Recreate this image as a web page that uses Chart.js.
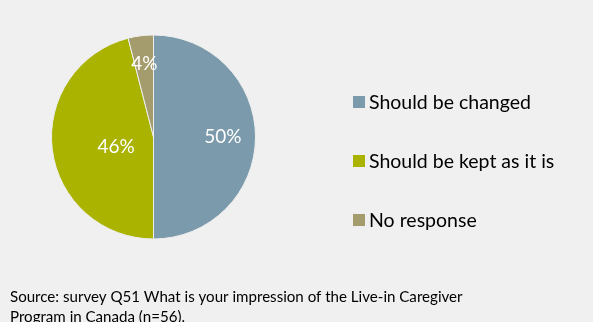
<!DOCTYPE html>
<html>
<head>
<meta charset="utf-8">
<script src="https://cdn.jsdelivr.net/npm/chart.js@4.4.1/dist/chart.umd.min.js"></script>
<style>
  html, body { margin: 0; padding: 0; background: #f0f0f0; }
  #wrap { width: 593px; height: 322px; position: relative; }
</style>
</head>
<body>
<div id="wrap"><canvas id="c" width="593" height="322"></canvas></div>
<script>
// Responses to Q51 (n=56), in percent
const categories = ['Should be changed', 'Should be kept as it is', 'No response'];
const shares = [50, 46, 4];
const sliceColors = ['#7b9aab', '#a9b300', '#a59c6e'];
const sourceLines = [
  'Source: survey Q51 What is your impression of the Live-in Caregiver',
  'Program in Canada (n=56).'
];

const FONT = 'Lato, "Open Sans", sans-serif';

// Percent labels inside each slice, placed along the slice's middle angle
const sliceLabels = {
  id: 'sliceLabels',
  afterDatasetsDraw(chart, args, opts) {
    const ctx = chart.ctx;
    const meta = chart.getDatasetMeta(0);
    ctx.save();
    ctx.fillStyle = '#ffffff';
    ctx.font = opts.font;
    ctx.textAlign = 'center';
    ctx.textBaseline = 'middle';
    meta.data.forEach((arc, i) => {
      const p = arc.getProps(['x', 'y', 'startAngle', 'endAngle', 'outerRadius'], true);
      const mid = (p.startAngle + p.endAngle) / 2;
      const r = p.outerRadius * opts.radiusFraction[i];
      const x = p.x + Math.cos(mid) * r;
      const y = p.y + Math.sin(mid) * r + (opts.yShift[i] || 0);
      ctx.fillText(shares[i] + '%', x, y);
    });
    ctx.restore();
  }
};

// Legend block to the right of the pie
const sideLegend = {
  id: 'sideLegend',
  afterDraw(chart, args, opts) {
    const ctx = chart.ctx;
    ctx.save();
    ctx.font = opts.font;
    ctx.textBaseline = 'middle';
    ctx.textAlign = 'left';
    categories.forEach((name, i) => {
      const cy = opts.top + i * opts.rowGap;
      ctx.fillStyle = sliceColors[i];
      ctx.fillRect(opts.left, cy - opts.box / 2, opts.box, opts.box);
      ctx.fillStyle = '#000000';
      ctx.fillText(name, opts.left + opts.box + 4, cy + 1);
    });
    ctx.restore();
  }
};

// Source note under the chart
const sourceNote = {
  id: 'sourceNote',
  afterDraw(chart, args, opts) {
    const ctx = chart.ctx;
    ctx.save();
    ctx.font = opts.font;
    ctx.fillStyle = '#000000';
    ctx.textBaseline = 'middle';
    ctx.textAlign = 'left';
    sourceLines.forEach((line, i) => {
      ctx.fillText(line, opts.left, opts.top + i * opts.lineHeight);
    });
    ctx.restore();
  }
};

new Chart(document.getElementById('c'), {
  type: 'pie',
  data: {
    labels: categories,
    datasets: [{
      data: shares,
      backgroundColor: sliceColors,
      borderColor: '#eeeeee',
      borderWidth: 1
    }]
  },
  options: {
    responsive: false,
    animation: false,
    events: [],
    layout: { padding: { left: 51, top: 34, right: 337, bottom: 82 } },
    plugins: {
      legend: { display: false },
      tooltip: { enabled: false },
      sliceLabels: {
        font: '19px ' + FONT,
        radiusFraction: [0.68, 0.37, 0.72],
        yShift: [0, 5, 0]
      },
      sideLegend: { font: '19.5px ' + FONT, left: 353, top: 102, rowGap: 59, box: 12 },
      sourceNote: { font: '15.1px ' + FONT, left: 10, top: 297, lineHeight: 20 }
    }
  },
  plugins: [sliceLabels, sideLegend, sourceNote]
});
</script>
</body>
</html>
